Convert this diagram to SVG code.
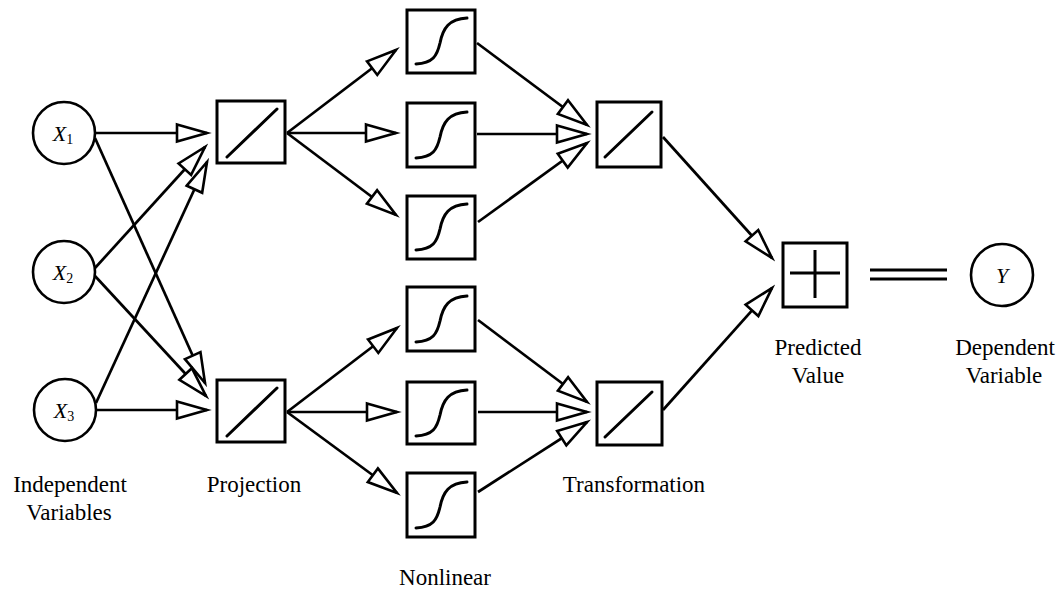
<svg xmlns="http://www.w3.org/2000/svg" width="1061" height="591" viewBox="0 0 1061 591">
<style>
.box{fill:#fff;stroke:#000;stroke-width:3}
.fn{fill:none;stroke:#000;stroke-width:3;stroke-linecap:round}
.node{fill:#fff;stroke:#000;stroke-width:2.6}
.edge{fill:none;stroke:#000;stroke-width:2.7;marker-end:url(#arr)}
.lbl{font-family:"Liberation Serif","Times New Roman",serif;font-size:23px;fill:#000;text-anchor:middle}
.var{font-family:"Liberation Serif","Times New Roman",serif;font-size:22px;font-style:italic;fill:#000;text-anchor:middle}
.sub{font-style:normal;font-size:14px}
</style>
<defs>
<marker id="arr" markerUnits="userSpaceOnUse" markerWidth="36" markerHeight="24" refX="32" refY="10" orient="auto" overflow="visible">
<path d="M2,1.5 L32,10 L2,18.5 Z" fill="#fff" stroke="#000" stroke-width="2.6" stroke-linejoin="miter"/>
</marker>
<path id="sig" d="M9,54 C26,53 30,46 33,33 C36,18 42,9 60,8" class="fn"/>
</defs>
<rect width="1061" height="591" fill="#fff"/>
<g id="connectors">
<path class="edge" d="M95,133 L207,133"/>
<path class="edge" d="M95,138 L205,383"/>
<path class="edge" d="M95,268 L205,147"/>
<path class="edge" d="M95,276 L206,396"/>
<path class="edge" d="M96,403 L207,162"/>
<path class="edge" d="M95,410 L207,410"/>
<path class="edge" d="M287,133 L396,50"/>
<path class="edge" d="M287,133 L396,133"/>
<path class="edge" d="M287,133 L396,215"/>
<path class="edge" d="M287,412 L397,328"/>
<path class="edge" d="M287,412 L397,412"/>
<path class="edge" d="M287,412 L397,493"/>
<path class="edge" d="M477,43 L587,125"/>
<path class="edge" d="M477,134 L587,134"/>
<path class="edge" d="M478,222 L587,143"/>
<path class="edge" d="M478,320 L587,402"/>
<path class="edge" d="M478,412 L587,412"/>
<path class="edge" d="M478,492 L587,422"/>
<path class="edge" d="M663,137 L772,258"/>
<path class="edge" d="M663,410 L772,288"/>
<path d="M870,270 L947,270 M870,279 L947,279" fill="none" stroke="#000" stroke-width="3"/>
</g>
<g id="x1"><circle class="node" cx="64" cy="133" r="31"/><text class="var" x="63" y="141">X<tspan class="sub" dy="3">1</tspan></text></g>
<g id="x2"><circle class="node" cx="64" cy="272" r="31"/><text class="var" x="63" y="280">X<tspan class="sub" dy="3">2</tspan></text></g>
<g id="x3"><circle class="node" cx="65" cy="410" r="31"/><text class="var" x="64" y="418">X<tspan class="sub" dy="3">3</tspan></text></g>
<g id="proj1"><rect class="box" x="217" y="101" width="68" height="62"/><path class="fn" d="M227,157 L277,109"/></g>
<g id="proj2"><rect class="box" x="217" y="380" width="68" height="62"/><path class="fn" d="M227,436 L277,388"/></g>
<g id="sig1"><rect class="box" x="407" y="10" width="68" height="63"/><use href="#sig" x="407" y="10"/></g>
<g id="sig2"><rect class="box" x="407" y="103" width="68" height="64"/><use href="#sig" x="407" y="104"/></g>
<g id="sig3"><rect class="box" x="407" y="196" width="68" height="63"/><use href="#sig" x="407" y="196"/></g>
<g id="sig4"><rect class="box" x="407" y="287" width="68" height="64"/><use href="#sig" x="407" y="288"/></g>
<g id="sig5"><rect class="box" x="407" y="382" width="68" height="62"/><use href="#sig" x="407" y="382"/></g>
<g id="sig6"><rect class="box" x="407" y="473" width="68" height="64"/><use href="#sig" x="407" y="474"/></g>
<g id="trans1"><rect class="box" x="597" y="102" width="64" height="65"/><path class="fn" d="M605,157 L652,112"/></g>
<g id="trans2"><rect class="box" x="597" y="382" width="65" height="63"/><path class="fn" d="M605,437 L652,392"/></g>
<g id="sum"><rect class="box" x="783" y="243" width="64" height="64"/><path d="M790,273 L840,273 M815,250 L815,298" fill="none" stroke="#000" stroke-width="3"/></g>
<g id="y"><circle class="node" cx="1002" cy="275" r="31"/><text class="var" x="1002" y="283">Y</text></g>
<g id="labels">
<text class="lbl" x="70" y="492">Independent</text>
<text class="lbl" x="69" y="520">Variables</text>
<text class="lbl" x="254" y="492">Projection</text>
<text class="lbl" x="445" y="585">Nonlinear</text>
<text class="lbl" x="634" y="492">Transformation</text>
<text class="lbl" x="818" y="355">Predicted</text>
<text class="lbl" x="818" y="383">Value</text>
<text class="lbl" x="1005" y="355">Dependent</text>
<text class="lbl" x="1004" y="383">Variable</text>
</g>
</svg>
